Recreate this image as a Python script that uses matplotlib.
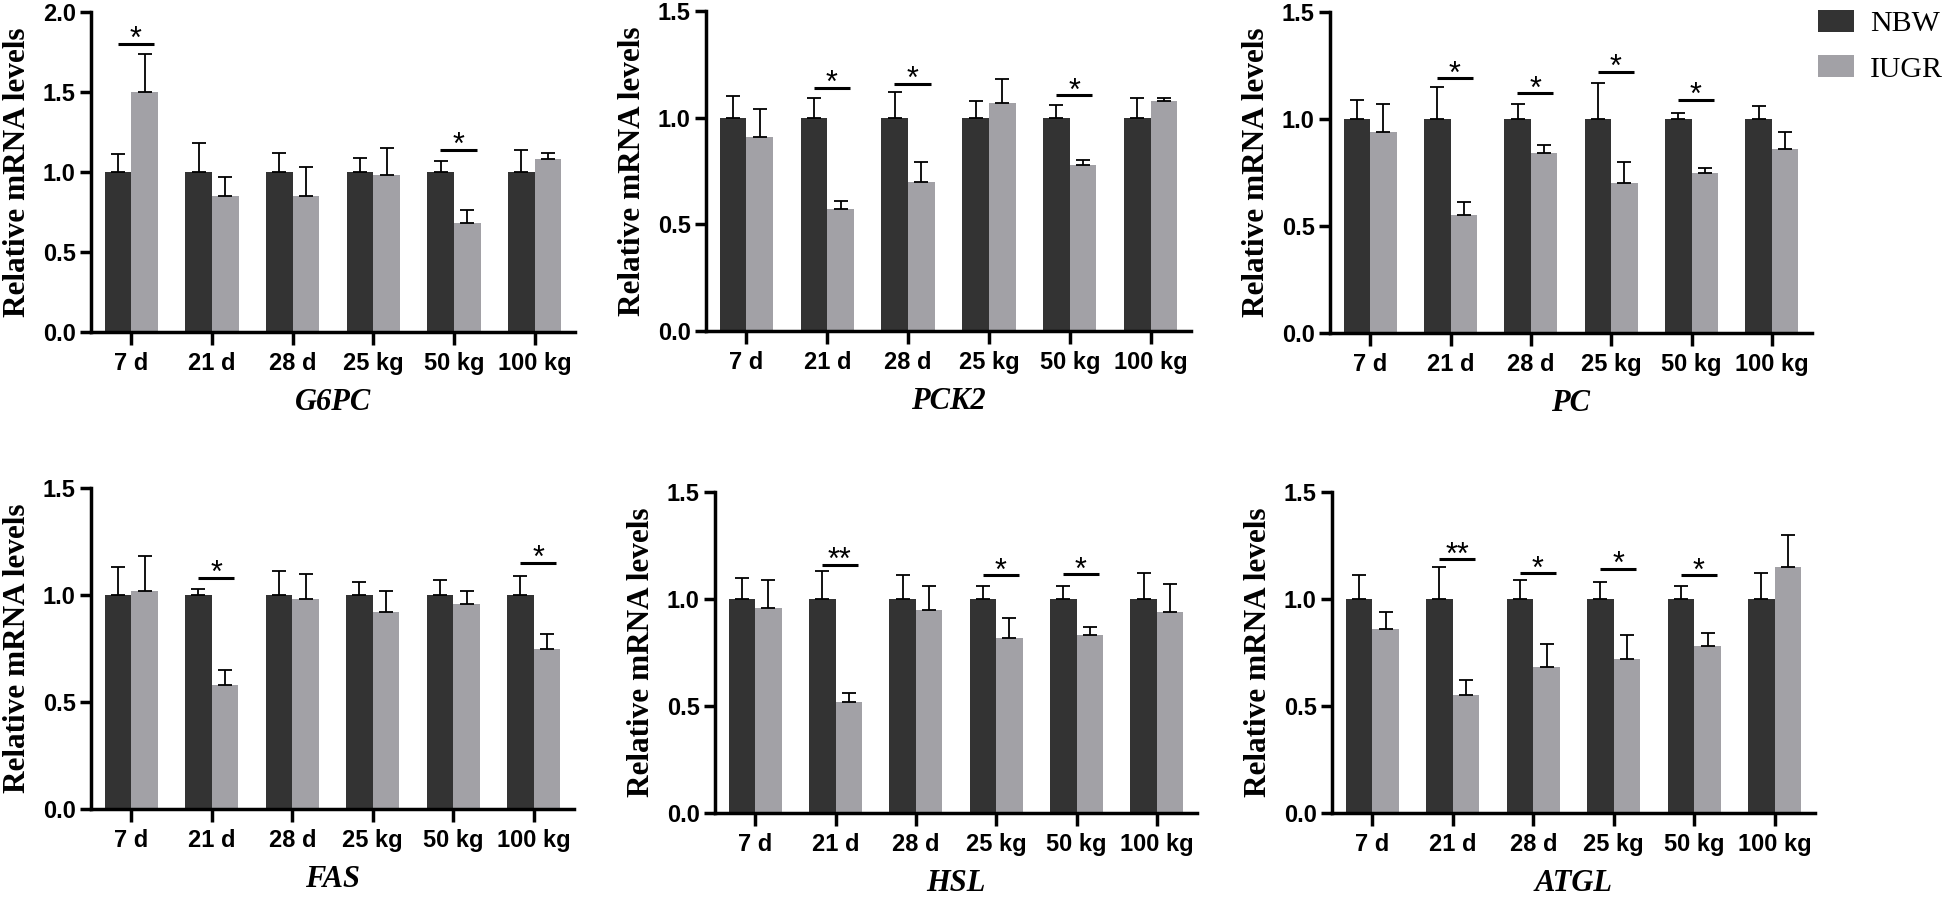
#!/usr/bin/python3
# -*- coding: utf-8 -*-

import numpy as np
import matplotlib
matplotlib.use('Agg')
from matplotlib import pyplot as plt
from matplotlib.patches import Patch

###--- Data (NBW is the reference group, always 1.0) ---###
stages = ['7 d', '21 d', '28 d', '25 kg', '50 kg', '100 kg']
groups = ['NBW', 'IUGR']

g6pc_nbw = [1.00, 1.00, 1.00, 1.00, 1.00, 1.00]
g6pc_nbw_sd = [0.11, 0.18, 0.12, 0.09, 0.07, 0.14]
g6pc_iugr = [1.50, 0.85, 0.85, 0.98, 0.68, 1.08]
g6pc_iugr_sd = [0.24, 0.12, 0.18, 0.17, 0.08, 0.04]
g6pc_sig = [(0, '*', 1.80), (4, '*', 1.14)]

pck2_nbw = [1.00, 1.00, 1.00, 1.00, 1.00, 1.00]
pck2_nbw_sd = [0.10, 0.09, 0.12, 0.08, 0.06, 0.09]
pck2_iugr = [0.91, 0.57, 0.70, 1.07, 0.78, 1.08]
pck2_iugr_sd = [0.13, 0.04, 0.09, 0.11, 0.02, 0.01]
pck2_sig = [(1, '*', 1.14), (2, '*', 1.16), (4, '*', 1.105)]

pc_nbw = [1.00, 1.00, 1.00, 1.00, 1.00, 1.00]
pc_nbw_sd = [0.09, 0.15, 0.07, 0.17, 0.03, 0.06]
pc_iugr = [0.94, 0.55, 0.84, 0.70, 0.75, 0.86]
pc_iugr_sd = [0.13, 0.06, 0.04, 0.10, 0.02, 0.08]
pc_sig = [(1, '*', 1.19), (2, '*', 1.12), (3, '*', 1.22), (4, '*', 1.09)]

fas_nbw = [1.00, 1.00, 1.00, 1.00, 1.00, 1.00]
fas_nbw_sd = [0.13, 0.03, 0.11, 0.06, 0.07, 0.09]
fas_iugr = [1.02, 0.58, 0.98, 0.92, 0.96, 0.75]
fas_iugr_sd = [0.16, 0.07, 0.12, 0.10, 0.06, 0.07]
fas_sig = [(1, '*', 1.08), (5, '*', 1.15)]

hsl_nbw = [1.00, 1.00, 1.00, 1.00, 1.00, 1.00]
hsl_nbw_sd = [0.10, 0.13, 0.11, 0.06, 0.06, 0.12]
hsl_iugr = [0.96, 0.52, 0.95, 0.82, 0.83, 0.94]
hsl_iugr_sd = [0.13, 0.04, 0.11, 0.09, 0.04, 0.13]
hsl_sig = [(1, '**', 1.16), (3, '*', 1.11), (4, '*', 1.115)]

atgl_nbw = [1.00, 1.00, 1.00, 1.00, 1.00, 1.00]
atgl_nbw_sd = [0.11, 0.15, 0.09, 0.08, 0.06, 0.12]
atgl_iugr = [0.86, 0.55, 0.68, 0.72, 0.78, 1.15]
atgl_iugr_sd = [0.08, 0.07, 0.11, 0.11, 0.06, 0.15]
atgl_sig = [(1, '**', 1.185), (2, '*', 1.12), (3, '*', 1.14), (4, '*', 1.11)]

y_tops = [2.0, 1.5, 1.5, 1.5, 1.5, 1.5]

panels = [
    ('G6PC', g6pc_nbw, g6pc_nbw_sd, g6pc_iugr, g6pc_iugr_sd, g6pc_sig),
    ('PCK2', pck2_nbw, pck2_nbw_sd, pck2_iugr, pck2_iugr_sd, pck2_sig),
    ('PC', pc_nbw, pc_nbw_sd, pc_iugr, pc_iugr_sd, pc_sig),
    ('FAS', fas_nbw, fas_nbw_sd, fas_iugr, fas_iugr_sd, fas_sig),
    ('HSL', hsl_nbw, hsl_nbw_sd, hsl_iugr, hsl_iugr_sd, hsl_sig),
    ('ATGL', atgl_nbw, atgl_nbw_sd, atgl_iugr, atgl_iugr_sd, atgl_sig),
]

###--- Style ---###
col_nbw = '#333333'
col_iugr = '#a2a1a6'
plt.rcParams['font.family'] = ['Liberation Sans', 'DejaVu Sans']
plt.rcParams['font.weight'] = 'bold'

W, H = 1944., 901.
# axes boxes in pixels: left, top, right, bottom
boxes = [(91, 12, 575, 332), (706, 11, 1191, 331), (1330, 12, 1812, 333),
         (91, 488, 574, 809), (715, 492, 1197, 813), (1332, 492, 1815, 813)]

fig = plt.figure(figsize=(W/100, H/100), dpi=100)
bw = 0.33
x = np.arange(len(stages))

for i, (gene, nbw, nbw_sd, iugr, iugr_sd, sig) in enumerate(panels):
    l, t, r, b = boxes[i]
    ax = fig.add_axes([l/W, 1-b/H, (r-l)/W, (b-t)/H])
    ekw = dict(ecolor='black', elinewidth=1.3, capsize=5, capthick=1.3)
    ax.bar(x-bw/2, nbw, bw, color=col_nbw, yerr=[np.zeros(len(x)), nbw_sd], error_kw=ekw)
    ax.bar(x+bw/2, iugr, bw, color=col_iugr, yerr=[np.zeros(len(x)), iugr_sd], error_kw=ekw)
    ##-- significance marks --##
    for k, lab, yl in sig:
        ax.plot([k-0.17, k+0.28], [yl, yl], color='black', lw=2.2, solid_capstyle='butt')
        ax.annotate(lab, xy=(k+0.055, yl), xytext=(0, -3), textcoords='offset points',
                    ha='center', va='baseline', fontsize=22, fontweight='normal')
    ytop = y_tops[i]
    ax.set_xlim(-0.5, 5.5)
    ax.set_ylim(0, ytop)
    ax.set_yticks(np.arange(0, ytop+0.01, 0.5))
    ax.set_yticklabels(['%.1f' % v for v in np.arange(0, ytop+0.01, 0.5)])
    ax.set_xticks(x)
    ax.set_xticklabels(stages)
    for s in ['top', 'right']:
        ax.spines[s].set_visible(False)
    for s in ['left', 'bottom']:
        ax.spines[s].set_linewidth(2.5)
    ax.tick_params(axis='y', length=8, width=2.5, pad=3, labelsize=17)
    ax.tick_params(axis='x', length=9.5, width=2.5, pad=5, labelsize=17)
    ax.set_ylabel('Relative mRNA levels', family='Liberation Serif', fontsize=22.5, fontweight='bold')
    ax.yaxis.set_label_coords(-0.122, 0.5)
    ax.set_xlabel(gene, family='Liberation Serif', fontsize=22, fontweight='bold', fontstyle='italic')
    ax.xaxis.set_label_coords(0.5, -0.22)
    ax.xaxis.label.set_va('center')

###--- Legend ---###
handles = [Patch(facecolor=col_nbw), Patch(facecolor=col_iugr)]
fig.legend(handles, groups, loc='upper left', bbox_to_anchor=(1812/W, 1-4/H), frameon=False,
           prop={'family': 'Liberation Serif', 'size': 21.5, 'weight': 'normal'},
           handlelength=1.2, handleheight=0.75, handletextpad=0.55, labelspacing=0.6,
           borderaxespad=0, borderpad=0.2)

plt.savefig('out.png', dpi=100)
plt.close()
